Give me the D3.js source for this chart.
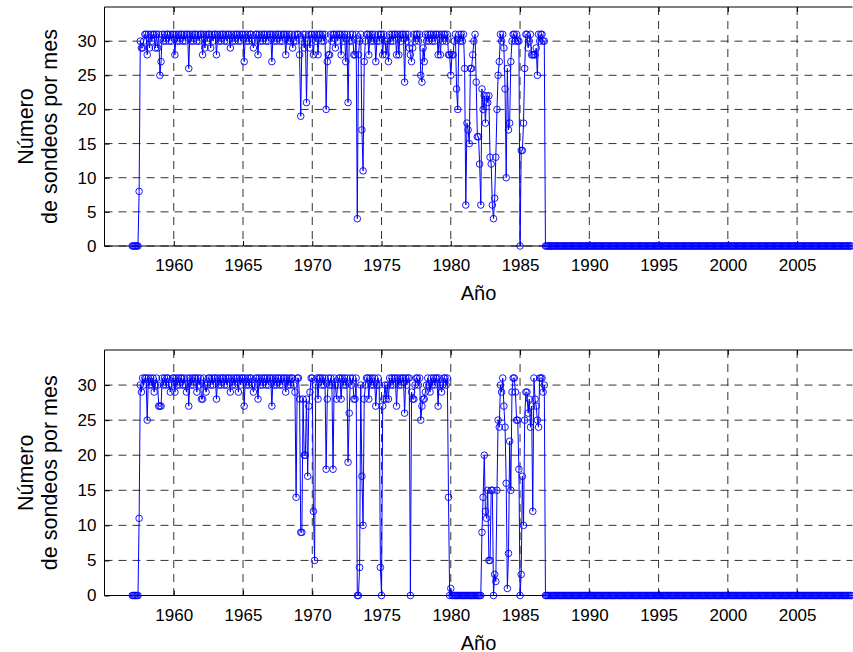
<!DOCTYPE html>
<html>
<head>
<meta charset="utf-8">
<script src="https://cdn.jsdelivr.net/npm/d3@7"></script>
<style>
  body { margin: 0; background: #fff; }
  text { font-family: "Liberation Sans", Arial, sans-serif; }
</style>
</head>
<body>
<svg id="chart" width="853" height="652"></svg>
<script>
// monthly soundings, one row per year (Jan..Dec), series starts Jan 1957
const startYear = 1957;
const xTicks = [1960, 1965, 1970, 1975, 1980, 1985, 1990, 1995, 2000, 2005];
const yTicks = [0, 5, 10, 15, 20, 25, 30];
const xLabel = "Año";
const yLabel = ["Número", "de sondeos por mes"];

// upper panel, 1957-1986
const upperRows = [
  [0,0,0,0,0,0,8,30,29,29,30,31],
  [31,28,31,29,31,30,31,31,29,31,29,31],
  [25,27,31,30,31,30,31,31,30,31,30,31],
  [31,28,31,30,31,30,31,31,30,31,30,31],
  [31,26,31,30,31,30,31,31,30,31,30,31],
  [31,28,31,29,31,30,31,31,29,31,30,31],
  [31,28,31,30,31,30,31,31,30,31,30,31],
  [31,29,31,30,31,30,31,31,30,31,30,31],
  [31,27,31,30,31,30,31,31,30,29,30,31],
  [31,28,31,30,31,30,31,31,30,31,30,31],
  [31,27,31,30,31,30,31,31,30,31,30,31],
  [31,28,31,30,31,30,31,29,30,31,30,31],
  [31,28,19,30,31,29,31,21,30,31,29,31],
  [31,28,31,30,31,28,31,31,30,31,30,31],
  [20,27,28,28,31,30,31,31,29,31,30,31],
  [31,28,31,30,31,27,31,21,30,31,30,31],
  [28,28,31,4,28,30,31,17,11,27,30,31],
  [31,28,31,30,31,30,31,27,30,31,30,31],
  [31,28,31,30,28,30,27,31,30,31,30,31],
  [31,28,31,28,31,30,31,31,24,31,30,31],
  [29,28,27,29,31,30,31,31,30,31,25,24],
  [29,27,31,30,31,30,31,31,30,31,30,31],
  [31,28,31,28,31,30,31,31,30,31,28,28],
  [25,28,28,30,31,23,20,31,30,31,30,31],
  [26,6,18,17,15,26,26,28,30,31,24,16],
  [16,12,6,23,20,22,18,22,21,22,13,12],
  [6,4,7,13,20,25,27,31,30,31,29,23],
  [10,26,17,18,27,30,31,31,30,31,30,30],
  [0,14,14,18,26,31,31,29,30,31,28,28],
  [28,28,29,25,31,30,31,31,30,30,0,0]
];

// lower panel, 1957-1986
const lowerRows = [
  [0,0,0,0,0,0,11,30,29,31,30,31],
  [31,25,31,30,31,30,31,29,30,31,30,27],
  [27,27,31,30,31,30,31,31,30,29,30,31],
  [31,29,31,30,31,30,31,31,30,31,30,29],
  [31,27,31,30,31,30,31,31,29,31,30,31],
  [28,28,31,30,29,30,31,31,30,31,30,31],
  [31,28,31,30,31,30,31,31,30,31,30,31],
  [31,29,31,30,31,30,31,31,29,31,30,31],
  [31,27,31,30,31,30,31,31,30,29,30,31],
  [31,28,31,30,31,30,31,31,30,31,30,31],
  [31,27,31,30,31,30,31,31,30,31,30,31],
  [31,29,31,30,31,30,31,31,30,29,14,31],
  [31,28,9,9,28,20,20,28,17,27,29,31],
  [31,12,5,30,31,28,31,31,30,31,30,31],
  [18,28,31,30,31,30,18,31,30,28,30,31],
  [31,28,31,30,31,30,31,19,26,31,30,31],
  [28,28,31,0,0,4,30,17,10,28,30,31],
  [31,28,31,30,31,30,31,27,30,31,30,4],
  [0,27,28,30,28,30,28,31,30,31,30,31],
  [31,27,31,30,31,30,31,31,26,31,30,31],
  [31,0,29,28,28,30,31,31,30,31,25,27],
  [28,28,29,30,31,30,29,31,30,31,30,31],
  [31,27,31,30,29,30,31,31,30,31,14,0],
  [1,0,0,0,0,0,0,0,0,0,0,0],
  [0,0,0,0,0,0,0,0,0,0,0,0],
  [0,0,0,9,14,20,12,11,15,5,5,15],
  [15,0,3,2,15,25,24,30,29,31,27,24],
  [16,1,6,22,15,29,31,31,29,25,25,18],
  [0,3,17,10,25,29,29,26,28,24,27,12],
  [31,28,27,25,24,31,31,31,29,30,0,0]
];

// both panels, 1987-2008: no soundings
const emptyRows = [
  [0,0,0,0,0,0,0,0,0,0,0,0],
  [0,0,0,0,0,0,0,0,0,0,0,0],
  [0,0,0,0,0,0,0,0,0,0,0,0],
  [0,0,0,0,0,0,0,0,0,0,0,0],
  [0,0,0,0,0,0,0,0,0,0,0,0],
  [0,0,0,0,0,0,0,0,0,0,0,0],
  [0,0,0,0,0,0,0,0,0,0,0,0],
  [0,0,0,0,0,0,0,0,0,0,0,0],
  [0,0,0,0,0,0,0,0,0,0,0,0],
  [0,0,0,0,0,0,0,0,0,0,0,0],
  [0,0,0,0,0,0,0,0,0,0,0,0],
  [0,0,0,0,0,0,0,0,0,0,0,0],
  [0,0,0,0,0,0,0,0,0,0,0,0],
  [0,0,0,0,0,0,0,0,0,0,0,0],
  [0,0,0,0,0,0,0,0,0,0,0,0],
  [0,0,0,0,0,0,0,0,0,0,0,0],
  [0,0,0,0,0,0,0,0,0,0,0,0],
  [0,0,0,0,0,0,0,0,0,0,0,0],
  [0,0,0,0,0,0,0,0,0,0,0,0],
  [0,0,0,0,0,0,0,0,0,0,0,0],
  [0,0,0,0,0,0,0,0,0,0,0,0],
  [0,0,0,0,0,0,0,0,0,0,0,0]
];

const svg = d3.select("#chart");
const left = 104.5, right = 852.5;

function drawPanel(rows, top, bottom) {
  const data = rows.concat(emptyRows).flat().map(function(v, i) {
    return { t: startYear + i / 12, v: v };
  });

  const x = d3.scaleLinear().domain([1955, 2009]).range([left, right]);
  const y = d3.scaleLinear().domain([0, 35]).range([bottom, top]);

  const g = svg.append("g");

  // dashed grid
  g.selectAll(".gx").data(xTicks).enter().append("line")
    .attr("x1", d => x(d)).attr("x2", d => x(d))
    .attr("y1", top).attr("y2", bottom)
    .attr("stroke", "#333").attr("stroke-dasharray", "8,6");
  g.selectAll(".gy").data(yTicks).enter().append("line")
    .attr("x1", left).attr("x2", right)
    .attr("y1", d => y(d)).attr("y2", d => y(d))
    .attr("stroke", "#333").attr("stroke-dasharray", "8,6");

  // axes, ticks pointing inward
  const xAxis = g.append("g")
    .attr("transform", "translate(0," + bottom + ")")
    .call(d3.axisBottom(x).tickValues(xTicks).tickFormat(d3.format("d"))
      .tickSizeInner(-5).tickSizeOuter(0).tickPadding(13));
  const yAxis = g.append("g")
    .attr("transform", "translate(" + left + ",0)")
    .call(d3.axisLeft(y).tickValues(yTicks)
      .tickSizeInner(-5).tickSizeOuter(0).tickPadding(8));
  g.append("g")
    .attr("transform", "translate(0," + top + ")")
    .call(d3.axisTop(x).tickValues(xTicks).tickFormat("").tickSizeInner(-5).tickSizeOuter(0));

  [xAxis, yAxis].forEach(function(a) {
    a.selectAll("text").attr("font-size", "17px").attr("fill", "#000")
      .style("font-family", "'Liberation Sans', Arial, sans-serif");
  });
  g.selectAll(".domain").remove();
  g.selectAll(".tick line").attr("stroke", "#000");

  // box
  g.append("path")
    .attr("d", "M" + right + "," + top + "H" + left + "V" + bottom + "H" + right)
    .attr("fill", "none").attr("stroke", "#000").attr("stroke-width", 1);

  // series
  g.append("path")
    .datum(data)
    .attr("fill", "none")
    .attr("stroke", "#0000ff")
    .attr("stroke-width", 1)
    .attr("d", d3.line().x(d => x(d.t)).y(d => y(d.v)));

  g.selectAll(".pt").data(data).enter().append("circle")
    .attr("cx", d => x(d.t)).attr("cy", d => y(d.v))
    .attr("r", 3.3)
    .attr("fill", "none").attr("stroke", "#0000ff").attr("stroke-width", 0.9);

  // labels
  g.append("text")
    .attr("x", (left + right) / 2).attr("y", bottom + 54)
    .attr("text-anchor", "middle").attr("font-size", "20px")
    .text(xLabel);

  const cy = (top + bottom) / 2;
  g.append("text")
    .attr("transform", "translate(33," + cy + ") rotate(-90)")
    .attr("text-anchor", "middle").attr("font-size", "21.5px")
    .text(yLabel[0]);
  g.append("text")
    .attr("transform", "translate(56.5," + cy + ") rotate(-90)")
    .attr("text-anchor", "middle").attr("font-size", "21.5px")
    .text(yLabel[1]);
}

drawPanel(upperRows, 7, 246);
drawPanel(lowerRows, 350, 595.5);
</script>
</body>
</html>
